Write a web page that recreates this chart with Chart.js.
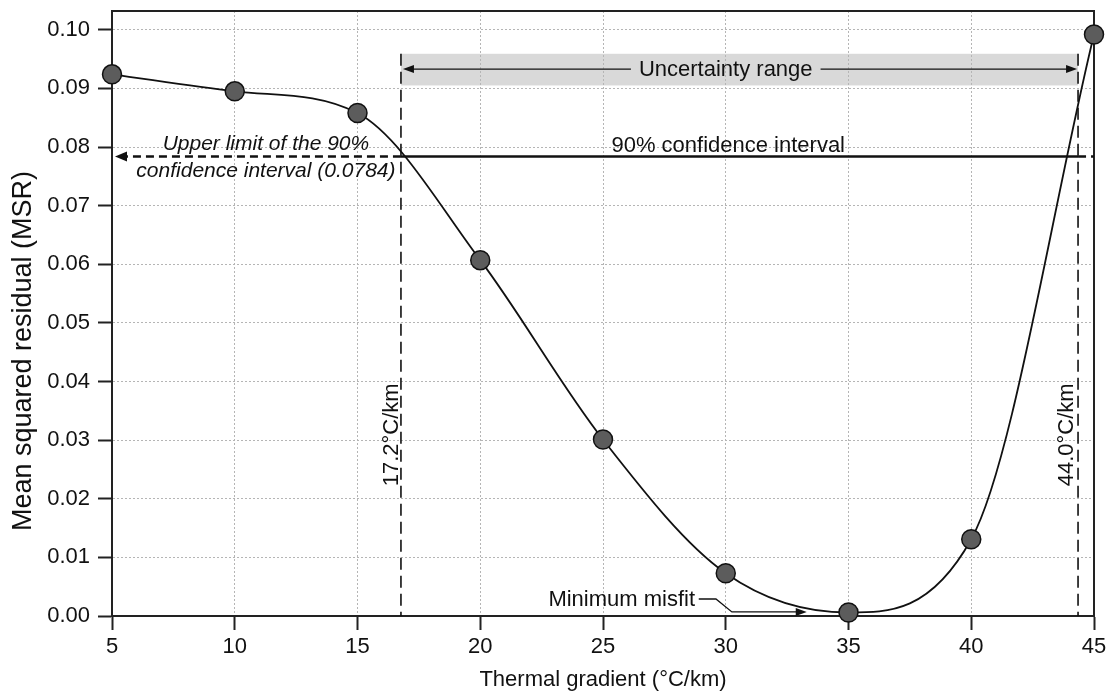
<!DOCTYPE html>
<html lang="en">
<head>
  <meta charset="UTF-8">
  <title>MSR vs thermal gradient</title>
  <script src="https://cdn.jsdelivr.net/npm/chart.js"></script>
  <style>
    body { margin: 0; background: #fff; }
    #wrap { width: 1114px; height: 695px; }
  </style>
</head>
<body>
<div id="wrap"><canvas id="chart"></canvas></div>
<script>
  // values
  const thermalGradient = [5, 10, 15, 20, 25, 30, 35, 40, 45];
  const msrValues = [0.0924, 0.0895, 0.0858, 0.0607, 0.0301, 0.0073, 0.0006, 0.0131, 0.0992];
  const xTicks = [5, 10, 15, 20, 25, 30, 35, 40, 45];
  const yTicks = [0.00, 0.01, 0.02, 0.03, 0.04, 0.05, 0.06, 0.07, 0.08, 0.09, 0.10];
  const ciUpper = 0.0784;
  const rangeLow = 16.77;   // drawn position of the 17.2 line
  const rangeHigh = 44.35;  // drawn position of the 44.0 line

  const FONT = "'Liberation Sans', Arial, sans-serif";
  const INK = '#111';

  function arrowHead(ctx, x, y, dir, len, half) {
    ctx.beginPath();
    ctx.moveTo(x, y);
    ctx.lineTo(x - dir * len, y - half);
    ctx.lineTo(x - dir * len, y + half);
    ctx.closePath();
    ctx.fill();
  }

  function line(ctx, x1, y1, x2, y2, width, dash) {
    ctx.save();
    ctx.lineWidth = width;
    ctx.setLineDash(dash || []);
    ctx.beginPath();
    ctx.moveTo(x1, y1);
    ctx.lineTo(x2, y2);
    ctx.stroke();
    ctx.restore();
  }

  const annotations = {
    id: 'annotations',
    beforeDraw(chart) {
      const { ctx, scales: { x, y } } = chart;
      ctx.save();
      ctx.fillStyle = '#ffffff';
      ctx.fillRect(0, 0, chart.width, chart.height);
      // uncertainty band
      ctx.fillStyle = '#d9d9d9';
      const top = y.getPixelForValue(0.0959), bot = y.getPixelForValue(0.0905);
      ctx.fillRect(x.getPixelForValue(rangeLow), top, x.getPixelForValue(rangeHigh) - x.getPixelForValue(rangeLow), bot - top);
      ctx.restore();
    },
    beforeDatasetsDraw(chart) {
      const { ctx, chartArea: a } = chart;
      ctx.save();
      ctx.strokeStyle = '#222';
      ctx.lineWidth = 2;
      ctx.beginPath();
      ctx.moveTo(a.left, a.top);
      ctx.lineTo(a.right, a.top);
      ctx.lineTo(a.right, a.bottom);
      ctx.stroke();
      ctx.restore();
    },
    afterDatasetsDraw(chart) {
      const { ctx, scales: { x, y } } = chart;
      const xl = x.getPixelForValue(rangeLow), xh = x.getPixelForValue(rangeHigh);
      const yc = y.getPixelForValue(ciUpper);
      ctx.save();
      ctx.strokeStyle = INK;
      ctx.fillStyle = INK;

      // dashed bounds of the uncertainty range
      const bandTop = y.getPixelForValue(0.0959);
      line(ctx, xl, bandTop, xl, y.getPixelForValue(0), 1.6, [12, 6]);
      line(ctx, xh, bandTop, xh, y.getPixelForValue(0), 1.6, [12, 6]);

      // 90% confidence line
      line(ctx, xl, yc, xh, yc, 2.5);
      line(ctx, xh, yc, x.getPixelForValue(45), yc, 2.5, [8, 5]);
      line(ctx, xl, yc, x.getPixelForValue(5) + 12, yc, 2.5, [8, 5]);
      arrowHead(ctx, x.getPixelForValue(5) + 3, yc, -1, 12, 5);

      // uncertainty range arrow
      const ya = y.getPixelForValue(0.0933);
      const xm = x.getPixelForValue(30);
      ctx.font = '22px ' + FONT;
      const w = ctx.measureText('Uncertainty range').width;
      line(ctx, xl + 8, ya, xm - w / 2 - 8, ya, 1.2);
      line(ctx, xm + w / 2 + 8, ya, xh - 8, ya, 1.2);
      arrowHead(ctx, xl + 2, ya, -1, 11, 4);
      arrowHead(ctx, xh - 1, ya, 1, 11, 4);
      ctx.textAlign = 'center';
      ctx.textBaseline = 'middle';
      ctx.fillText('Uncertainty range', xm, ya + 1);

      // labels
      ctx.textBaseline = 'alphabetic';
      ctx.fillText('90% confidence interval', x.getPixelForValue(30.1), yc - 4);
      ctx.font = 'italic 21px ' + FONT;
      const xu = x.getPixelForValue(11.27);
      ctx.fillText('Upper limit of the 90%', xu, yc - 6);
      ctx.fillText('confidence interval (0.0784)', xu, yc + 21);

      ctx.font = '22px ' + FONT;
      const yr = y.getPixelForValue(0.0309);
      [[xl - 3, '17.2°C/km'], [xh - 5, '44.0°C/km']].forEach(([px, txt]) => {
        ctx.save();
        ctx.translate(px, yr);
        ctx.rotate(-Math.PI / 2);
        ctx.fillText(txt, 0, 0);
        ctx.restore();
      });

      // minimum misfit leader
      ctx.textAlign = 'right';
      const yt = y.getPixelForValue(0.0017);
      ctx.fillText('Minimum misfit', x.getPixelForValue(28.75), yt);
      const y1 = y.getPixelForValue(0.0029), y2 = y.getPixelForValue(0.0007);
      ctx.lineWidth = 1.3;
      ctx.beginPath();
      ctx.moveTo(x.getPixelForValue(28.9), y1);
      ctx.lineTo(x.getPixelForValue(29.6), y1);
      ctx.lineTo(x.getPixelForValue(30.25), y2);
      ctx.lineTo(x.getPixelForValue(33.0), y2);
      ctx.stroke();
      arrowHead(ctx, x.getPixelForValue(33.3), y2, 1, 11, 4);

      // y axis title (sits a bit below the plot centre in the original)
      ctx.font = '27px ' + FONT;
      ctx.textAlign = 'center';
      ctx.save();
      ctx.translate(31, 351);
      ctx.rotate(-Math.PI / 2);
      ctx.fillText('Mean squared residual (MSR)', 0, 0);
      ctx.restore();
      ctx.restore();
    }
  };

  new Chart(document.getElementById('chart'), {
    type: 'line',
    data: {
      labels: thermalGradient,
      datasets: [{
        data: thermalGradient.map((t, i) => ({ x: t, y: msrValues[i] })),
        borderColor: INK,
        borderWidth: 1.8,
        cubicInterpolationMode: 'monotone',
        pointRadius: 9.5,
        pointBackgroundColor: '#5c5c5c',
        pointBorderColor: INK,
        pointBorderWidth: 1.5,
        clip: false
      }]
    },
    options: {
      responsive: true,
      maintainAspectRatio: false,
      animation: false,
      events: [],
      layout: { padding: { top: 8.5, right: 20, left: 0, bottom: 0 } },
      plugins: { legend: { display: false }, tooltip: { enabled: false } },
      scales: {
        x: {
          type: 'linear',
          min: 5,
          max: 45,
          afterBuildTicks: s => { s.ticks = xTicks.map(v => ({ value: v })); },
          afterFit: s => { s.height = 79; },
          grid: { color: '#b5b5b5', lineWidth: 1, tickLength: 14, tickColor: '#222', tickWidth: 2, tickBorderDash: [] },
          border: { color: '#222', width: 2, dash: [2, 2] },
          ticks: { color: INK, font: { family: FONT, size: 22 }, padding: 4, maxRotation: 0 },
          title: { display: true, text: 'Thermal gradient (°C/km)', color: INK, font: { family: FONT, size: 22 }, padding: { top: 0, bottom: 2 } }
        },
        y: {
          min: 0,
          max: 0.1032,
          afterBuildTicks: s => { s.ticks = yTicks.map(v => ({ value: v })); },
          afterFit: s => { s.width = 112; s.paddingTop = 0; s.paddingBottom = 0; },
          grid: { color: '#b5b5b5', lineWidth: 1, tickLength: 14, tickColor: '#222', tickWidth: 2, tickBorderDash: [] },
          border: { color: '#222', width: 2, dash: [2, 2] },
          ticks: { color: INK, font: { family: FONT, size: 22 }, padding: 8, callback: v => v.toFixed(2) }
        }
      }
    },
    plugins: [annotations]
  });
</script>
</body>
</html>
